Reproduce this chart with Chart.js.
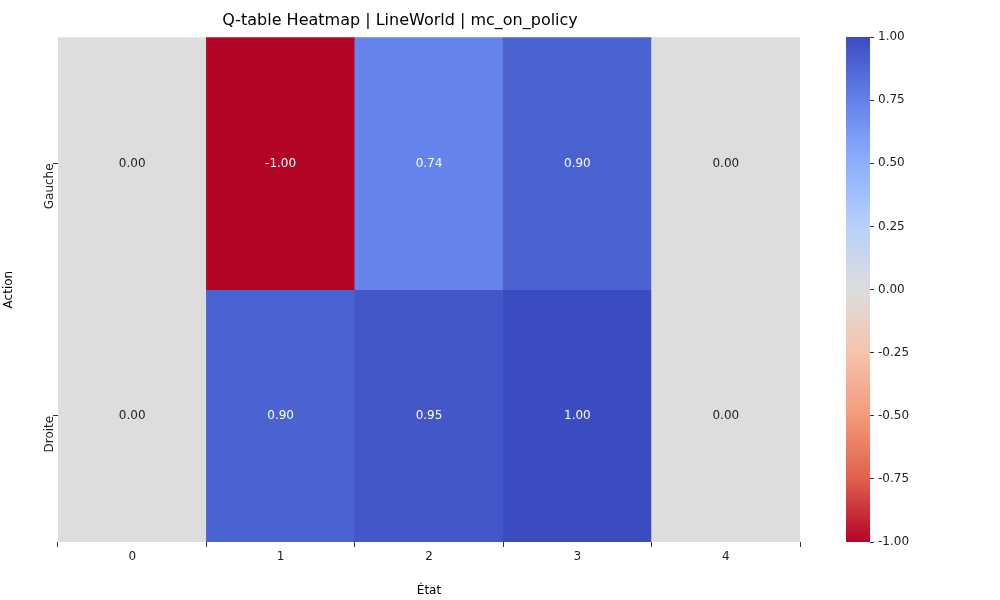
<!DOCTYPE html>
<html>
<head>
<meta charset="utf-8">
<script src="https://cdn.jsdelivr.net/npm/chart.js@4/dist/chart.umd.min.js"></script>
<style>
  body { margin: 0; background: #fff; }
  #main { position: absolute; left: 0; top: 0; }
  #bar { position: absolute; left: 810px; top: 0; }
</style>
</head>
<body>
<div id="main" style="width:810px;height:600px"><canvas id="heat"></canvas></div>
<div id="bar" style="width:190px;height:600px"><canvas id="cbar"></canvas></div>
<script>
"use strict";

const states = ["0", "1", "2", "3", "4"];
const actions = ["Gauche", "Droite"];
const gaucheValues = [0.0, -1.0, 0.74, 0.9, 0.0];
const droiteValues = [0.0, 0.9, 0.95, 1.0, 0.0];
const colorbarTicks = [1, 0.75, 0.5, 0.25, 0, -0.25, -0.5, -0.75, -1];

// coolwarm stops, index 0 = blue (value +1), last = red (value -1)
const stops = [
  [59, 76, 192], [98, 130, 234], [141, 176, 254], [184, 208, 249],
  [221, 221, 221], [245, 196, 173], [244, 154, 123], [222, 96, 77], [180, 4, 38]
];

function colorFor(v) {
  let t = (1 - v) / 2 * (stops.length - 1);
  let i = Math.min(Math.floor(t), stops.length - 2);
  let f = t - i;
  let c = stops[i].map((a, k) => Math.round(a + (stops[i + 1][k] - a) * f));
  return "rgb(" + c.join(",") + ")";
}

const font = { family: "DejaVu Sans", size: 12 };
Chart.defaults.font = font;
Chart.defaults.color = "#222";

const rows = [gaucheValues, droiteValues];
const datasets = rows.map((vals, r) => ({
  label: actions[r],
  data: vals.map(() => [r, r + 1]),
  values: vals,
  backgroundColor: vals.map(colorFor),
  barPercentage: 1,
  categoryPercentage: 1,
  grouped: false,
}));

const cellLabels = {
  id: "cellLabels",
  afterDatasetsDraw(chart) {
    const c = chart.ctx;
    c.save();
    c.font = "12px DejaVu Sans";
    c.textAlign = "center";
    c.textBaseline = "middle";
    chart.data.datasets.forEach((ds, di) => {
      chart.getDatasetMeta(di).data.forEach((bar, i) => {
        const v = ds.values[i];
        c.fillStyle = Math.abs(v) > 0.5 ? "#fff" : "#222";
        c.fillText(v.toFixed(2), bar.x, (bar.y + bar.base) / 2);
      });
    });
    c.restore();
  },
};

new Chart(document.getElementById("heat"), {
  type: "bar",
  data: { labels: states, datasets: datasets },
  plugins: [cellLabels],
  options: {
    responsive: true,
    maintainAspectRatio: false,
    animation: false,
    layout: { padding: { right: 10, top: 0 } },
    plugins: {
      legend: { display: false },
      tooltip: { enabled: false },
      title: {
        display: true,
        text: "Q-table Heatmap | LineWorld | mc_on_policy",
        font: { family: "DejaVu Sans", size: 16, weight: "normal" },
        color: "#000",
        padding: { top: 11, bottom: 7 },
      },
    },
    scales: {
      x: {
        grid: { display: true, drawOnChartArea: false, tickLength: 5, color: "#333" },
        border: { display: false },
        title: { display: true, text: "État", font: font, color: "#000", padding: 2 },
        afterFit(s) { s.height = 58; },
      },
      y: {
        min: 0,
        max: 2,
        reverse: true,
        afterBuildTicks(s) { s.ticks = [{ value: 0.5 }, { value: 1.5 }]; },
        ticks: {
          minRotation: 90,
          maxRotation: 90,
          callback: (v) => actions[Math.floor(v)],
        },
        grid: { display: true, drawOnChartArea: false, tickLength: 5, color: "#333" },
        border: { display: false },
        title: { display: true, text: "Action", font: font, color: "#000", padding: 2 },
        afterFit(s) { s.width = 58; },
      },
    },
  },
});

new Chart(document.getElementById("cbar"), {
  type: "bar",
  data: {
    labels: [""],
    datasets: [{
      data: [[-1, 1]],
      barPercentage: 1,
      categoryPercentage: 1,
      backgroundColor(ctx) {
        const area = ctx.chart.chartArea;
        if (!area) return "#ddd";
        const g = ctx.chart.ctx.createLinearGradient(0, area.top, 0, area.bottom);
        stops.forEach((s, i) => g.addColorStop(i / (stops.length - 1), "rgb(" + s.join(",") + ")"));
        return g;
      },
    }],
  },
  options: {
    responsive: true,
    maintainAspectRatio: false,
    animation: false,
    layout: { padding: { left: 36, top: 37, bottom: 58 } },
    plugins: { legend: { display: false }, tooltip: { enabled: false } },
    scales: {
      x: { display: false },
      y: {
        position: "right",
        min: -1,
        max: 1,
        afterBuildTicks(s) { s.ticks = colorbarTicks.map((v) => ({ value: v })); },
        ticks: { callback: (v) => v.toFixed(2), padding: 4 },
        grid: { display: true, drawOnChartArea: false, tickLength: 4, color: "#333" },
        border: { display: false },
        afterFit(s) { s.width = 130; },
      },
    },
  },
});
</script>
</body>
</html>
